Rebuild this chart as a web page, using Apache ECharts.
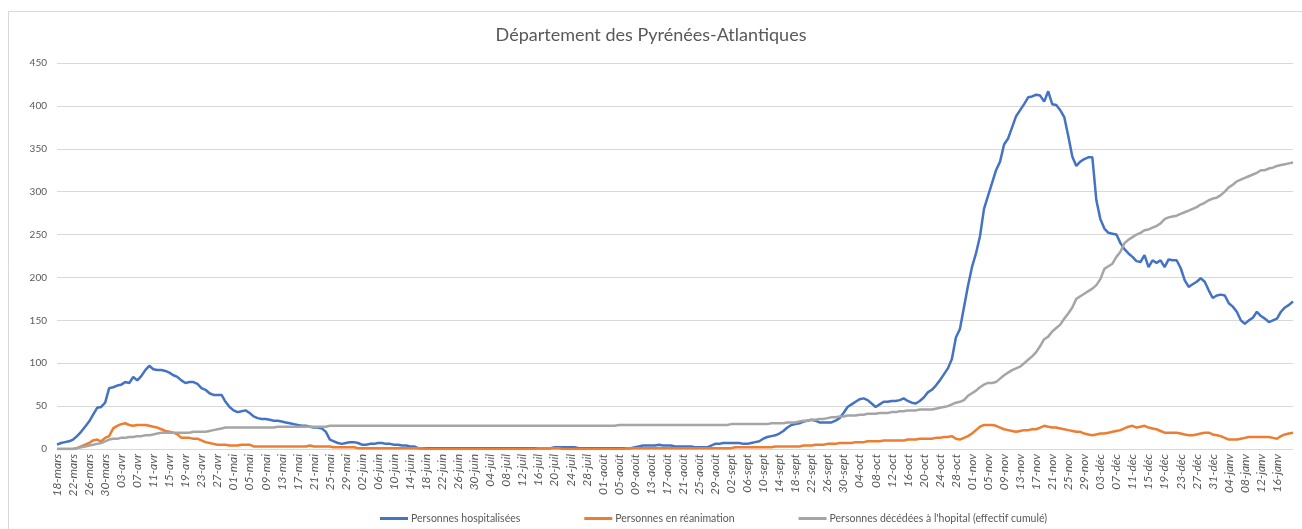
<!DOCTYPE html>
<html>
<head>
<meta charset="utf-8">
<title>Département des Pyrénées-Atlantiques</title>
<script src="https://cdn.jsdelivr.net/npm/echarts@6/dist/echarts.min.js"></script>
<style>
  html, body { margin: 0; padding: 0; background: #fff; }
  #chart { width: 1302px; height: 529px; }
</style>
</head>
<body>
<div id="chart"></div>
<script>
// mois affichés sur l'axe (format jj-mmm), série du 18-mars au 20-janv
const monthNames = ['mars', 'avr', 'mai', 'juin', 'juil', 'août', 'sept', 'oct', 'nov', 'déc', 'janv']
const monthDays = [31, 30, 31, 30, 31, 31, 30, 31, 30, 31, 31]
const firstDay = 18
const dayCount = 309
const lastLabelIndex = 304 // 16-janv, dernier libellé visible

const yTicks = [0, 50, 100, 150, 200, 250, 300, 350, 400, 450]

const hospitalises = [
  5, 7, 8, 9, 11, 15, 20, 26, 32, 40, 48, 49, 54, 71, 72, 74,
  75, 78, 77, 84, 80, 85, 92, 97, 93, 92, 92, 91, 89, 86, 84, 80,
  77, 78, 78, 76, 71, 69, 65, 63, 63, 63, 55, 49, 45, 43, 44, 45,
  42, 38, 36, 35, 35, 34, 33, 33, 32, 31, 30, 29, 28, 27, 27, 26,
  25, 25, 24, 20, 11, 9, 7, 6, 7, 8, 8, 7, 5, 5, 6, 6,
  7, 7, 6, 6, 5, 5, 4, 4, 3, 3, 1, 1, 1, 1, 1, 1,
  1, 1, 1, 1, 1, 1, 1, 1, 1, 1, 1, 1, 1, 1, 1, 1,
  1, 1, 1, 1, 1, 1, 1, 1, 1, 1, 1, 1, 2, 2, 2, 2,
  2, 2, 1, 1, 1, 1, 1, 1, 1, 1, 1, 1, 1, 1, 1, 1,
  2, 3, 4, 4, 4, 4, 5, 4, 4, 4, 3, 3, 3, 3, 3, 2,
  2, 2, 2, 4, 6, 6, 7, 7, 7, 7, 7, 6, 6, 7, 8, 9,
  12, 14, 15, 16, 18, 21, 25, 28, 29, 30, 32, 33, 34, 33, 31, 31,
  31, 31, 33, 36, 42, 49, 52, 55, 58, 59, 57, 53, 49, 52, 55, 55,
  56, 56, 57, 59, 56, 54, 53, 56, 60, 66, 69, 74, 80, 87, 94, 105,
  130, 140, 165, 190, 212, 228, 248, 280, 295, 310, 325, 335, 355, 362, 375, 388,
  395, 402, 410, 411, 413, 412, 405, 417, 402, 401, 395, 387, 365, 341, 330, 335,
  338, 340, 340, 290, 268, 257, 252, 251, 250, 240, 233, 228, 224, 219, 218, 226,
  212, 220, 217, 220, 212, 221, 220, 220, 211, 197, 189, 192, 195, 199, 195, 185,
  176, 179, 180, 179, 170, 166, 160, 150, 146, 150, 153, 160, 155, 152, 148, 150,
  152, 160, 165, 168, 172
]

const reanimation = [
  0, 0, 0, 0, 0, 1, 3, 5, 7, 10, 11, 9, 13, 15, 24, 27,
  29, 30, 28, 27, 28, 28, 28, 27, 26, 25, 23, 21, 20, 19, 17, 13,
  13, 13, 12, 12, 10, 8, 7, 6, 5, 5, 5, 4, 4, 4, 5, 5,
  5, 3, 3, 3, 3, 3, 3, 3, 3, 3, 3, 3, 3, 3, 3, 4,
  3, 3, 3, 3, 3, 2, 2, 2, 2, 2, 2, 1, 1, 1, 1, 1,
  1, 1, 1, 1, 1, 1, 1, 1, 1, 1, 1, 1, 0, 0, 0, 0,
  0, 0, 0, 0, 0, 0, 0, 0, 0, 0, 0, 0, 0, 0, 0, 0,
  0, 0, 0, 0, 0, 0, 0, 0, 1, 1, 1, 1, 1, 1, 0, 0,
  0, 0, 0, 0, 0, 0, 0, 0, 0, 0, 0, 0, 0, 0, 1, 1,
  1, 1, 1, 1, 1, 1, 1, 1, 1, 1, 1, 1, 1, 1, 1, 1,
  1, 1, 1, 1, 1, 1, 1, 1, 1, 2, 2, 2, 2, 2, 2, 2,
  2, 2, 2, 3, 3, 3, 3, 3, 3, 3, 4, 4, 4, 5, 5, 5,
  6, 6, 6, 7, 7, 7, 7, 8, 8, 8, 9, 9, 9, 9, 10, 10,
  10, 10, 10, 10, 11, 11, 11, 12, 12, 12, 12, 13, 13, 14, 14, 15,
  12, 11, 13, 15, 18, 22, 26, 28, 28, 28, 27, 25, 23, 22, 21, 20,
  21, 22, 22, 23, 23, 25, 27, 26, 25, 25, 24, 23, 22, 21, 20, 20,
  18, 17, 16, 17, 18, 18, 19, 20, 21, 22, 24, 26, 27, 25, 26, 27,
  25, 24, 23, 21, 19, 19, 19, 19, 18, 17, 16, 16, 17, 18, 19, 19,
  17, 16, 15, 13, 11, 11, 11, 12, 13, 14, 14, 14, 14, 14, 14, 13,
  12, 15, 17, 18, 19
]

const decedes = [
  0, 0, 0, 0, 0, 1, 2, 3, 4, 5, 6, 7, 9, 11, 12, 12,
  13, 13, 14, 14, 15, 15, 16, 16, 17, 18, 19, 19, 19, 19, 19, 19,
  19, 19, 20, 20, 20, 20, 21, 22, 23, 24, 25, 25, 25, 25, 25, 25,
  25, 25, 25, 25, 25, 25, 25, 26, 26, 26, 26, 26, 26, 26, 26, 26,
  26, 26, 26, 26, 27, 27, 27, 27, 27, 27, 27, 27, 27, 27, 27, 27,
  27, 27, 27, 27, 27, 27, 27, 27, 27, 27, 27, 27, 27, 27, 27, 27,
  27, 27, 27, 27, 27, 27, 27, 27, 27, 27, 27, 27, 27, 27, 27, 27,
  27, 27, 27, 27, 27, 27, 27, 27, 27, 27, 27, 27, 27, 27, 27, 27,
  27, 27, 27, 27, 27, 27, 27, 27, 27, 27, 27, 27, 28, 28, 28, 28,
  28, 28, 28, 28, 28, 28, 28, 28, 28, 28, 28, 28, 28, 28, 28, 28,
  28, 28, 28, 28, 28, 28, 28, 28, 29, 29, 29, 29, 29, 29, 29, 29,
  29, 29, 30, 30, 30, 30, 31, 31, 31, 32, 33, 33, 34, 34, 35, 35,
  36, 37, 37, 38, 38, 39, 39, 39, 40, 40, 41, 41, 41, 42, 42, 42,
  43, 43, 44, 44, 45, 45, 45, 46, 46, 46, 46, 47, 48, 49, 50, 52,
  54, 55, 57, 62, 65, 68, 72, 75, 77, 77, 78, 82, 86, 89, 92, 94,
  96, 100, 104, 108, 113, 120, 128, 131, 137, 141, 145, 152, 158, 165, 175, 178,
  181, 184, 187, 191, 198, 210, 213, 216, 224, 230, 240, 244, 247, 250, 252, 255,
  256, 258, 260, 263, 268, 270, 271, 272, 274, 276, 278, 280, 282, 285, 287, 290,
  292, 293, 296, 300, 305, 308, 312, 314, 316, 318, 320, 322, 325, 325, 327, 328,
  330, 331, 332, 333, 334
]

const seriesNames = [
  'Personnes hospitalisées',
  'Personnes en réanimation',
  "Personnes décédées à l'hopital (effectif cumulé)"
]

const buildDates = () => {
  const dates = []
  let m = 0
  let d = firstDay
  while (dates.length < dayCount) {
    dates.push(String(d).padStart(2, '0') + '-' + monthNames[m])
    d++
    if (d > monthDays[m]) {
      d = 1
      m++
    }
  }
  return dates
}

const dates = buildDates()
const font = 'Lato, "Open Sans", sans-serif'
const textColor = '#595959'

const chart = echarts.init(document.getElementById('chart'))

const option = {
  animation: false,
  textStyle: { fontFamily: font },
  graphic: [{
    type: 'rect',
    shape: { x: 8.5, y: 11.5, width: 1300, height: 530 },
    style: { fill: 'none', stroke: '#d9d9d9', lineWidth: 1 },
    silent: true
  }],
  title: {
    text: 'Département des Pyrénées-Atlantiques',
    left: 'center',
    top: 21,
    textStyle: { fontFamily: font, fontSize: 18, fontWeight: 'normal', color: textColor }
  },
  legend: {
    data: seriesNames,
    left: 375,
    top: 508,
    icon: 'rect',
    itemWidth: 28,
    itemHeight: 3,
    itemGap: 64,
    textStyle: { fontFamily: font, fontSize: 10.5, color: textColor, padding: [0, 0, 0, -2] }
  },
  grid: {
    left: 57,
    right: 9,
    top: 63,
    bottom: 80,
    containLabel: false
  },
  xAxis: {
    type: 'category',
    boundaryGap: false,
    data: dates,
    axisLine: { lineStyle: { color: '#d9d9d9', width: 1 } },
    axisTick: { show: false },
    axisLabel: {
      interval: (index) => index % 4 === 0 && index <= lastLabelIndex,
      rotate: 90,
      margin: 5,
      fontSize: 12,
      fontStyle: 'italic',
      color: textColor,
      fontFamily: font
    },
    splitLine: { show: false }
  },
  yAxis: {
    type: 'value',
    min: yTicks[0],
    max: yTicks[yTicks.length - 1],
    interval: yTicks[1] - yTicks[0],
    axisLine: { show: false },
    axisTick: { show: false },
    axisLabel: { fontSize: 10, color: textColor, margin: 10, fontFamily: font },
    splitLine: { lineStyle: { color: '#d9d9d9', width: 1 } }
  },
  series: [
    {
      name: seriesNames[0],
      type: 'line',
      data: hospitalises,
      symbol: 'none',
      lineStyle: { color: '#4472C4', width: 2.5 },
      itemStyle: { color: '#4472C4' }
    },
    {
      name: seriesNames[1],
      type: 'line',
      data: reanimation,
      symbol: 'none',
      lineStyle: { color: '#ED7D31', width: 2.5 },
      itemStyle: { color: '#ED7D31' }
    },
    {
      name: seriesNames[2],
      type: 'line',
      data: decedes,
      symbol: 'none',
      lineStyle: { color: '#A5A5A5', width: 2.5 },
      itemStyle: { color: '#A5A5A5' }
    }
  ]
}

chart.setOption(option)
window.addEventListener('resize', () => chart.resize())
</script>
</body>
</html>
